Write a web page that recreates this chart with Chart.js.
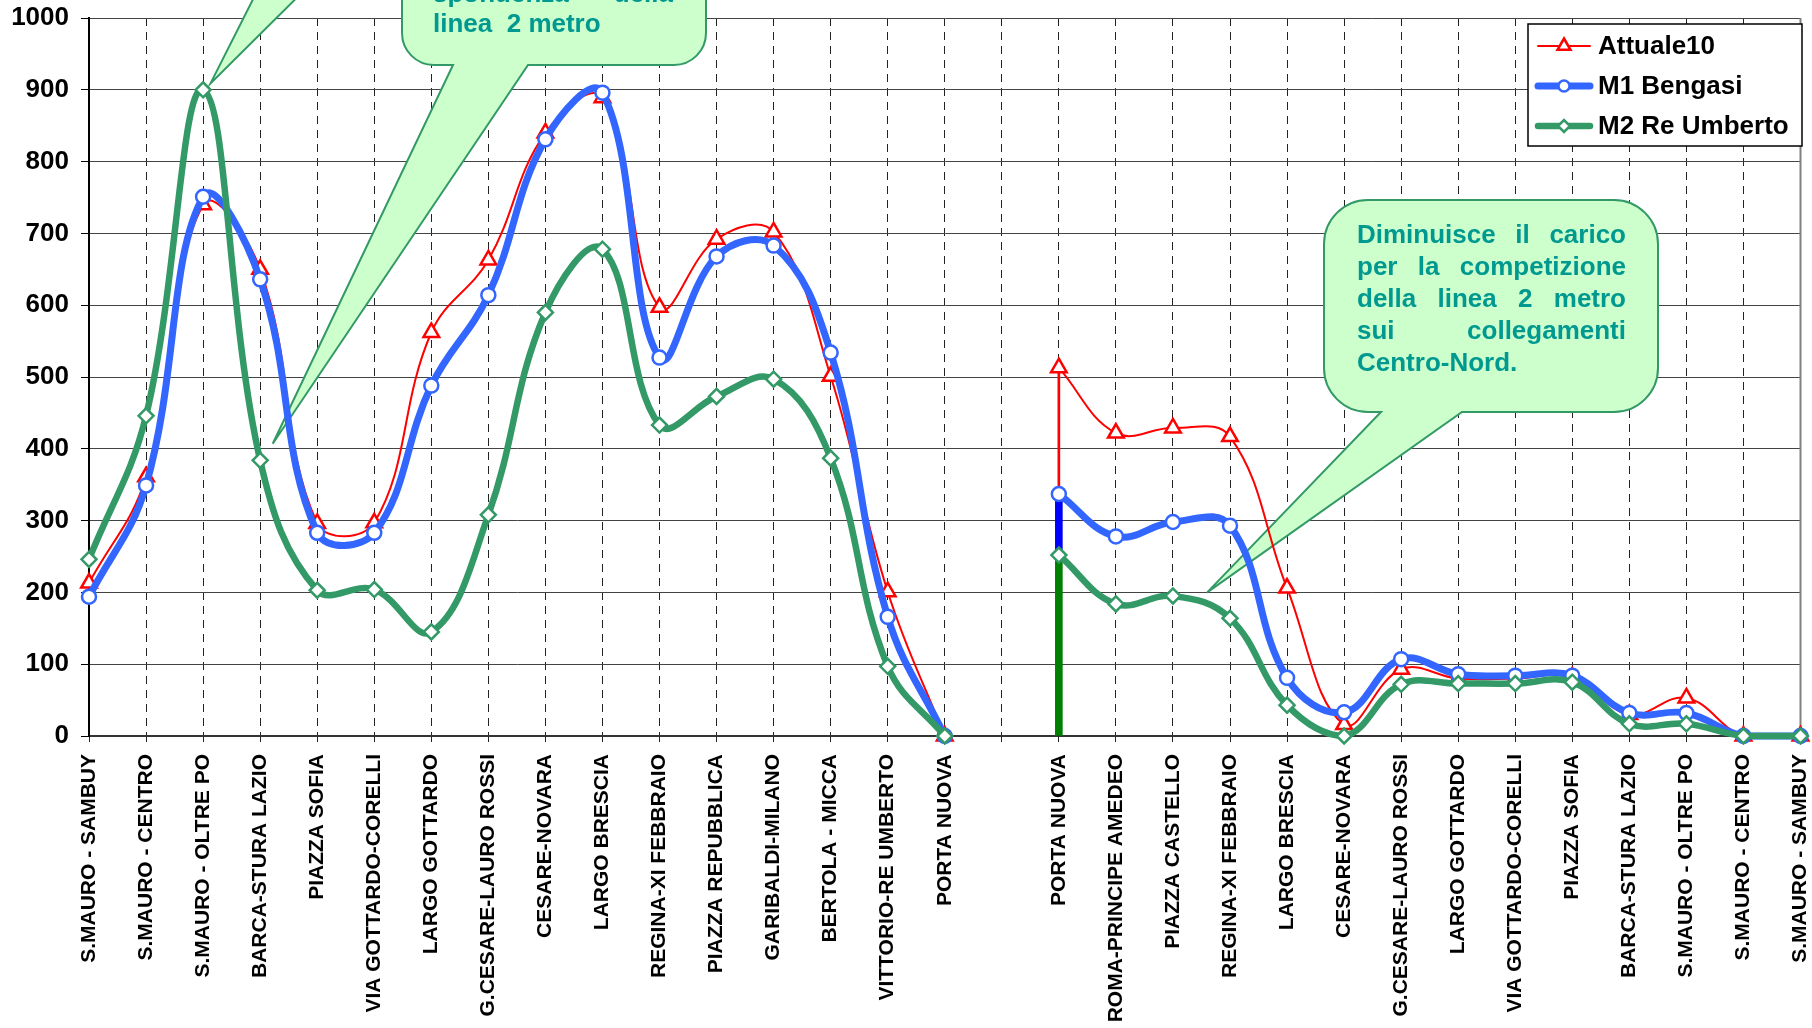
<!DOCTYPE html>
<html lang="it">
<head>
<meta charset="utf-8">
<title>Carico sulla linea - Attuale10, M1 Bengasi, M2 Re Umberto</title>
<script src="https://cdn.jsdelivr.net/npm/chart.js"></script>
<style>
  html, body { margin: 0; padding: 0; background: #fff; }
  #wrap { width: 1812px; height: 1028px; position: relative; }
</style>
</head>
<body>
<div id="wrap"><canvas id="carico"></canvas></div>
<script>
// fermate: andata verso Porta Nuova, colonna vuota, ritorno verso S.Mauro
const fermate = [
  'S.MAURO - SAMBUY', 'S.MAURO - CENTRO', 'S.MAURO - OLTRE PO', 'BARCA-STURA LAZIO',
  'PIAZZA SOFIA', 'VIA GOTTARDO-CORELLI', 'LARGO GOTTARDO', 'G.CESARE-LAURO ROSSI',
  'CESARE-NOVARA', 'LARGO BRESCIA', 'REGINA-XI FEBBRAIO', 'PIAZZA REPUBBLICA',
  'GARIBALDI-MILANO', 'BERTOLA - MICCA', 'VITTORIO-RE UMBERTO', 'PORTA NUOVA',
  '',
  'PORTA NUOVA', 'ROMA-PRINCIPE AMEDEO', 'PIAZZA CASTELLO', 'REGINA-XI FEBBRAIO',
  'LARGO BRESCIA', 'CESARE-NOVARA', 'G.CESARE-LAURO ROSSI', 'LARGO GOTTARDO',
  'VIA GOTTARDO-CORELLI', 'PIAZZA SOFIA', 'BARCA-STURA LAZIO', 'S.MAURO - OLTRE PO',
  'S.MAURO - CENTRO', 'S.MAURO - SAMBUY'
];

const attuale10 = [213, 361, 740, 650, 296, 297, 562, 663, 840, 889, 597, 692, 702, 501, 201, 0,
  null, 513, 422, 429, 417, 206, 16, 93, 80, 80, 82, 30, 53, 0, 0];
const m1Bengasi = [194, 349, 751, 636, 283, 283, 488, 614, 831, 896, 527, 668, 683, 534, 166, 0,
  null, 337, 278, 298, 293, 81, 33, 107, 86, 84, 84, 32, 32, 0, 0];
const m2ReUmberto = [246, 446, 900, 384, 203, 204, 145, 308, 590, 678, 433, 473, 497, 387, 97, 0,
  null, 252, 184, 195, 164, 43, 0, 72, 73, 73, 75, 17, 17, 0, 0];

// capolinea del ritorno: i tratti verticali partono da qui
const capolinea = 17;

const FONT = "'Liberation Sans', Arial, sans-serif";
Chart.defaults.font.family = FONT;

// segmenti verticali al capolinea, impilati fra le tre serie
const tratto = (lo, hi) => fermate.map((_, i) => i === capolinea ? [lo[i], hi[i]] : null);
const zero = fermate.map(() => 0);

const fumetti = [
  { lines: [], box: { x: 150, y: -220, w: 420, h: 160, r: 40 },
    tail: [283, 355], anchor: { i: 2.13, v: 909 } },
  { lines: ['spondenza della', 'linea  2 metro'], box: { x: 402, y: -130, w: 304, h: 195, r: 32 },
    tail: [453, 528], anchor: { i: 3.22, v: 407 }, text: { x: 433, w: 240, y: 2, lh: 30 } },
  { lines: ['Diminuisce il carico', 'per la competizione', 'della linea 2 metro', 'sui collegamenti', 'Centro-Nord.'],
    box: { x: 1324, y: 200, w: 334, h: 212, r: 44 },
    tail: [1381, 1462], anchor: { i: 19.6, v: 200 }, text: { x: 1357, w: 269, y: 243, lh: 32 } }
];

function pathFumetto(ctx, b, tl, tr, ax, ay) {
  const { x, y, w, h, r } = b;
  const bot = y + h;
  ctx.beginPath();
  ctx.moveTo(x + r, y);
  ctx.arcTo(x + w, y, x + w, y + r, r);
  ctx.arcTo(x + w, bot, x + w - r, bot, r);
  ctx.lineTo(tr, bot);
  ctx.lineTo(ax, ay);
  ctx.lineTo(tl, bot);
  ctx.arcTo(x, bot, x, bot - r, r);
  ctx.arcTo(x, y, x + r, y, r);
  ctx.closePath();
}

function rigaGiustificata(ctx, riga, x, y, w, ultima) {
  const parole = riga.split(' ').filter(Boolean);
  if (ultima || parole.length < 2) { ctx.fillText(riga, x, y); return; }
  const pieno = parole.reduce((s, p) => s + ctx.measureText(p).width, 0);
  const gap = (w - pieno) / (parole.length - 1);
  let cx = x;
  parole.forEach(p => { ctx.fillText(p, cx, y); cx += ctx.measureText(p).width + gap; });
}

const fumettiPlugin = {
  id: 'fumetti',
  beforeDatasetsDraw(chart) {
    const { ctx, chartArea, scales: { x, y } } = chart;
    ctx.save();
    // bordo destro dell'area del grafico
    ctx.strokeStyle = '#808080';
    ctx.lineWidth = 2;
    ctx.beginPath();
    ctx.moveTo(chartArea.right, chartArea.top);
    ctx.lineTo(chartArea.right, chartArea.bottom);
    ctx.stroke();

    fumetti.forEach(f => {
      const ax = x.getPixelForValue(f.anchor.i);
      const ay = y.getPixelForValue(f.anchor.v);
      pathFumetto(ctx, f.box, f.tail[0], f.tail[1], ax, ay);
      ctx.fillStyle = '#ccffcc';
      ctx.fill();
      ctx.strokeStyle = '#339966';
      ctx.lineWidth = 2;
      ctx.stroke();
      if (!f.text) return;
      ctx.fillStyle = '#009990';
      ctx.font = 'bold 26px ' + FONT;
      ctx.textBaseline = 'alphabetic';
      ctx.textAlign = 'left';
      f.lines.forEach((riga, k) => {
        rigaGiustificata(ctx, riga, f.text.x, f.text.y + k * f.text.lh, f.text.w, k === f.lines.length - 1);
      });
    });
    ctx.restore();
  }
};

const legendaPlugin = {
  id: 'legendaRiquadro',
  afterDatasetsDraw(chart) {
    const ctx = chart.ctx;
    const serie = chart.data.datasets.filter(d => d.type !== 'bar');
    const bx = 1528, by = 24, bw = 274, bh = 122;
    ctx.save();
    ctx.fillStyle = '#fff';
    ctx.fillRect(bx, by, bw, bh);
    ctx.strokeStyle = '#000';
    ctx.lineWidth = 1.5;
    ctx.strokeRect(bx, by, bw, bh);
    serie.forEach((ds, k) => {
      const cy = by + 22 + k * 40;
      ctx.strokeStyle = ds.borderColor;
      ctx.lineWidth = ds.borderWidth;
      ctx.lineCap = 'round';
      ctx.beginPath();
      ctx.moveTo(bx + 10, cy);
      ctx.lineTo(bx + 62, cy);
      ctx.stroke();
      ctx.fillStyle = '#fff';
      ctx.lineWidth = ds.pointBorderWidth;
      Chart.helpers.drawPoint(ctx, {
        pointStyle: ds.pointStyle, radius: ds.pointRadius - 1.5, rotation: 0, borderWidth: ds.pointBorderWidth
      }, bx + 36, cy);
      ctx.fillStyle = '#000';
      ctx.font = 'bold 26px ' + FONT;
      ctx.textBaseline = 'middle';
      ctx.fillText(ds.label, bx + 70, cy + 1);
    });
    ctx.restore();
  }
};

const linea = (label, data, color, width, style, radius, order) => ({
  type: 'line', label, data, order,
  borderColor: color, borderWidth: width,
  pointStyle: style, pointRadius: radius, pointBorderWidth: 2.5,
  pointBackgroundColor: '#fff', pointBorderColor: color,
  tension: 0.4, spanGaps: false, clip: false
});

const verticale = (data, color, thick, order) => ({
  type: 'bar', data, order,
  backgroundColor: color, borderWidth: 0,
  barThickness: thick, grouped: false
});

new Chart(document.getElementById('carico'), {
  type: 'line',
  data: {
    labels: fermate,
    datasets: [
      linea('Attuale10', attuale10, '#ff0000', 2, 'triangle', 9, 3),
      linea('M1 Bengasi', m1Bengasi, '#3366ff', 7, 'circle', 7, 2),
      linea('M2 Re Umberto', m2ReUmberto, '#339966', 6.5, 'rectRot', 7.5, 1),
      verticale(tratto(zero, m2ReUmberto), '#008000', 7, 6),
      verticale(tratto(m2ReUmberto, m1Bengasi), '#0000ff', 7, 5),
      verticale(tratto(m1Bengasi, attuale10), '#ff0000', 2, 4)
    ]
  },
  options: {
    responsive: true,
    maintainAspectRatio: false,
    animation: false,
    events: [],
    layout: { padding: { top: 18, right: 7, bottom: 0, left: 0 } },
    plugins: {
      legend: { display: false },
      tooltip: { enabled: false }
    },
    scales: {
      x: {
        offset: false,
        ticks: {
          autoSkip: false,
          maxRotation: 90,
          minRotation: 90,
          color: '#000',
          padding: 12,
          font: { size: 21, weight: 'bold', lineHeight: 1 }
        },
        grid: { offset: false, color: '#222', lineWidth: 1, tickLength: 6, tickColor: '#222' },
        border: { dash: [8, 6], color: '#333', width: 2 },
        afterFit: (scale) => {
          scale.height = 292;
          scale.paddingLeft = 0;
          scale.paddingRight = 0;
        }
      },
      y: {
        min: 0,
        max: 1000,
        ticks: {
          stepSize: 100,
          color: '#000',
          padding: 12,
          font: { size: 26, weight: 'bold' },
          callback: (v) => String(v)
        },
        grid: { color: '#444', lineWidth: 1, tickLength: 8, tickColor: '#000' },
        border: { color: '#000', width: 2 },
        afterFit: (scale) => {
          scale.width = 89;
          scale.paddingTop = 0;
          scale.paddingBottom = 0;
        }
      }
    }
  },
  plugins: [fumettiPlugin, legendaPlugin]
});
</script>
</body>
</html>
